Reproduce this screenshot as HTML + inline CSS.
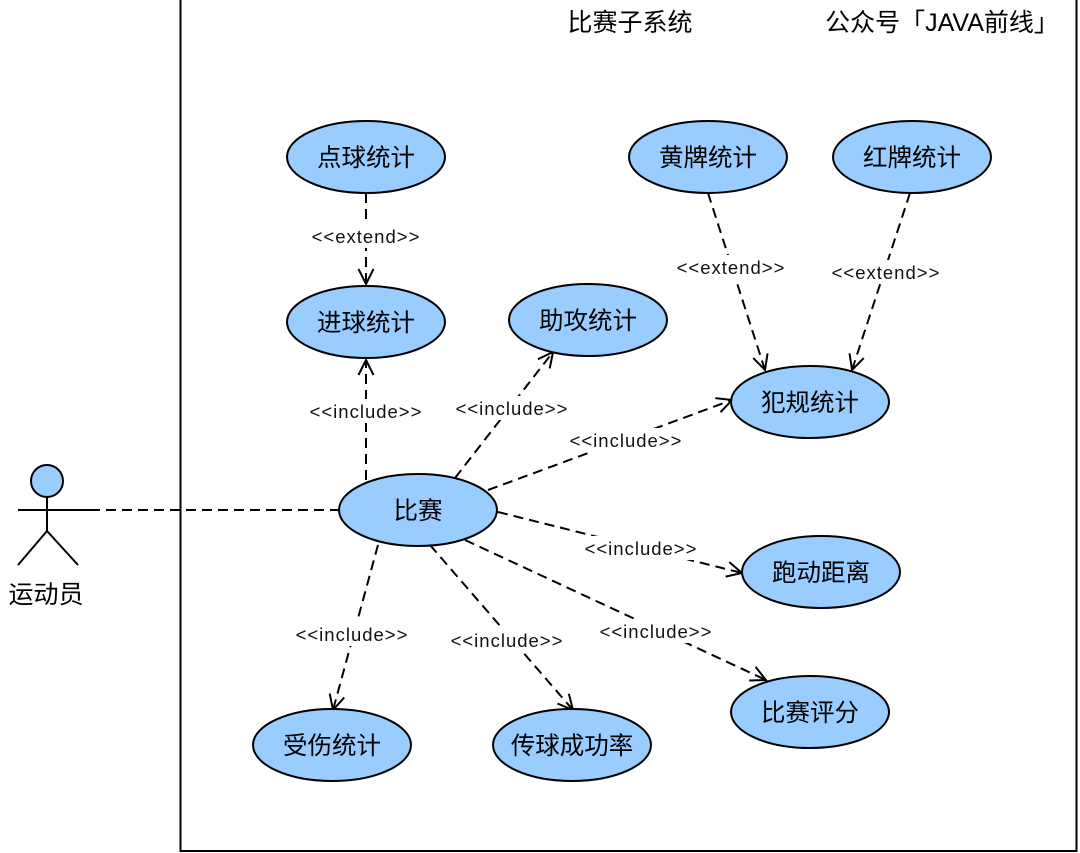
<!DOCTYPE html>
<html><head><meta charset="utf-8"><style>body{margin:0;background:#fff}svg{display:block}</style></head><body>
<svg width="1080" height="853" xmlns="http://www.w3.org/2000/svg" font-family="Liberation Sans, Noto Sans CJK SC, sans-serif">
<defs><marker id="a" markerWidth="22" markerHeight="22" refX="17" refY="9" orient="auto" markerUnits="userSpaceOnUse"><path d="M2,1.5 L17,9 L2,16.5" fill="none" stroke="#000" stroke-width="2"/></marker></defs>
<rect x="180.5" y="-2" width="896" height="853" fill="none" stroke="#000" stroke-width="2"/>
<text x="630" y="31" font-size="25" text-anchor="middle">比赛子系统</text>
<text x="942" y="31" font-size="25" text-anchor="middle">公众号「JAVA前线」</text>
<g stroke="#000" stroke-width="2" fill="none">
<circle cx="47" cy="481" r="16" fill="#99CCFF"/>
<line x1="47" y1="497" x2="47" y2="531"/><line x1="18" y1="510" x2="90" y2="510"/>
<path d="M18,565 L47,531 L78,565"/>
</g>
<text x="46" y="603" font-size="25" text-anchor="middle">运动员</text>
<g stroke="#000" stroke-width="2" stroke-dasharray="10,6" fill="none">
<line x1="90" y1="510" x2="339" y2="510"/>
<line x1="366" y1="193" x2="366" y2="284" marker-end="url(#a)"/>
<line x1="366" y1="480" x2="366" y2="360" marker-end="url(#a)"/>
<line x1="455" y1="478" x2="553" y2="352" marker-end="url(#a)"/>
<line x1="488" y1="490" x2="732" y2="400" marker-end="url(#a)"/>
<line x1="708" y1="193" x2="765" y2="370" marker-end="url(#a)"/>
<line x1="910" y1="193" x2="852" y2="370" marker-end="url(#a)"/>
<line x1="498" y1="512" x2="742" y2="573" marker-end="url(#a)"/>
<line x1="465" y1="540" x2="766" y2="680" marker-end="url(#a)"/>
<line x1="378" y1="545" x2="333" y2="710" marker-end="url(#a)"/>
<line x1="430" y1="545" x2="573" y2="710" marker-end="url(#a)"/>
</g>
<g font-size="18.5" letter-spacing="1" text-anchor="middle" fill="#111">
<rect x="310" y="224" width="112" height="24" fill="#fff"/><text x="366" y="243">&lt;&lt;extend&gt;&gt;</text>
<rect x="306" y="399" width="120" height="24" fill="#fff"/><text x="366" y="418">&lt;&lt;include&gt;&gt;</text>
<rect x="452" y="396" width="120" height="24" fill="#fff"/><text x="512" y="415">&lt;&lt;include&gt;&gt;</text>
<rect x="566" y="428" width="120" height="24" fill="#fff"/><text x="626" y="447">&lt;&lt;include&gt;&gt;</text>
<rect x="675" y="255" width="112" height="24" fill="#fff"/><text x="731" y="274">&lt;&lt;extend&gt;&gt;</text>
<rect x="830" y="260" width="112" height="24" fill="#fff"/><text x="886" y="279">&lt;&lt;extend&gt;&gt;</text>
<rect x="581" y="536" width="120" height="24" fill="#fff"/><text x="641" y="555">&lt;&lt;include&gt;&gt;</text>
<rect x="596" y="619" width="120" height="24" fill="#fff"/><text x="656" y="638">&lt;&lt;include&gt;&gt;</text>
<rect x="292" y="622" width="120" height="24" fill="#fff"/><text x="352" y="641">&lt;&lt;include&gt;&gt;</text>
<rect x="447" y="628" width="120" height="24" fill="#fff"/><text x="507" y="647">&lt;&lt;include&gt;&gt;</text>
</g>
<g fill="#99CCFF" stroke="#000" stroke-width="2">
<ellipse cx="366" cy="157" rx="79" ry="36"/>
<ellipse cx="366" cy="322" rx="79" ry="36"/>
<ellipse cx="588" cy="320" rx="79" ry="36"/>
<ellipse cx="708" cy="157" rx="79" ry="36"/>
<ellipse cx="912" cy="157" rx="79" ry="36"/>
<ellipse cx="810" cy="402" rx="79" ry="36"/>
<ellipse cx="418" cy="510" rx="79" ry="36"/>
<ellipse cx="821" cy="572" rx="79" ry="36"/>
<ellipse cx="810" cy="712" rx="79" ry="36"/>
<ellipse cx="332" cy="745" rx="79" ry="36"/>
<ellipse cx="572" cy="745" rx="79" ry="36"/>
</g>
<g font-size="24.5" text-anchor="middle" fill="#000">
<text x="366" y="166">点球统计</text>
<text x="366" y="331">进球统计</text>
<text x="588" y="329">助攻统计</text>
<text x="708" y="166">黄牌统计</text>
<text x="912" y="166">红牌统计</text>
<text x="810" y="411">犯规统计</text>
<text x="418" y="519">比赛</text>
<text x="821" y="581">跑动距离</text>
<text x="810" y="721">比赛评分</text>
<text x="332" y="754">受伤统计</text>
<text x="572" y="754">传球成功率</text>
</g>
</svg>
</body></html>
